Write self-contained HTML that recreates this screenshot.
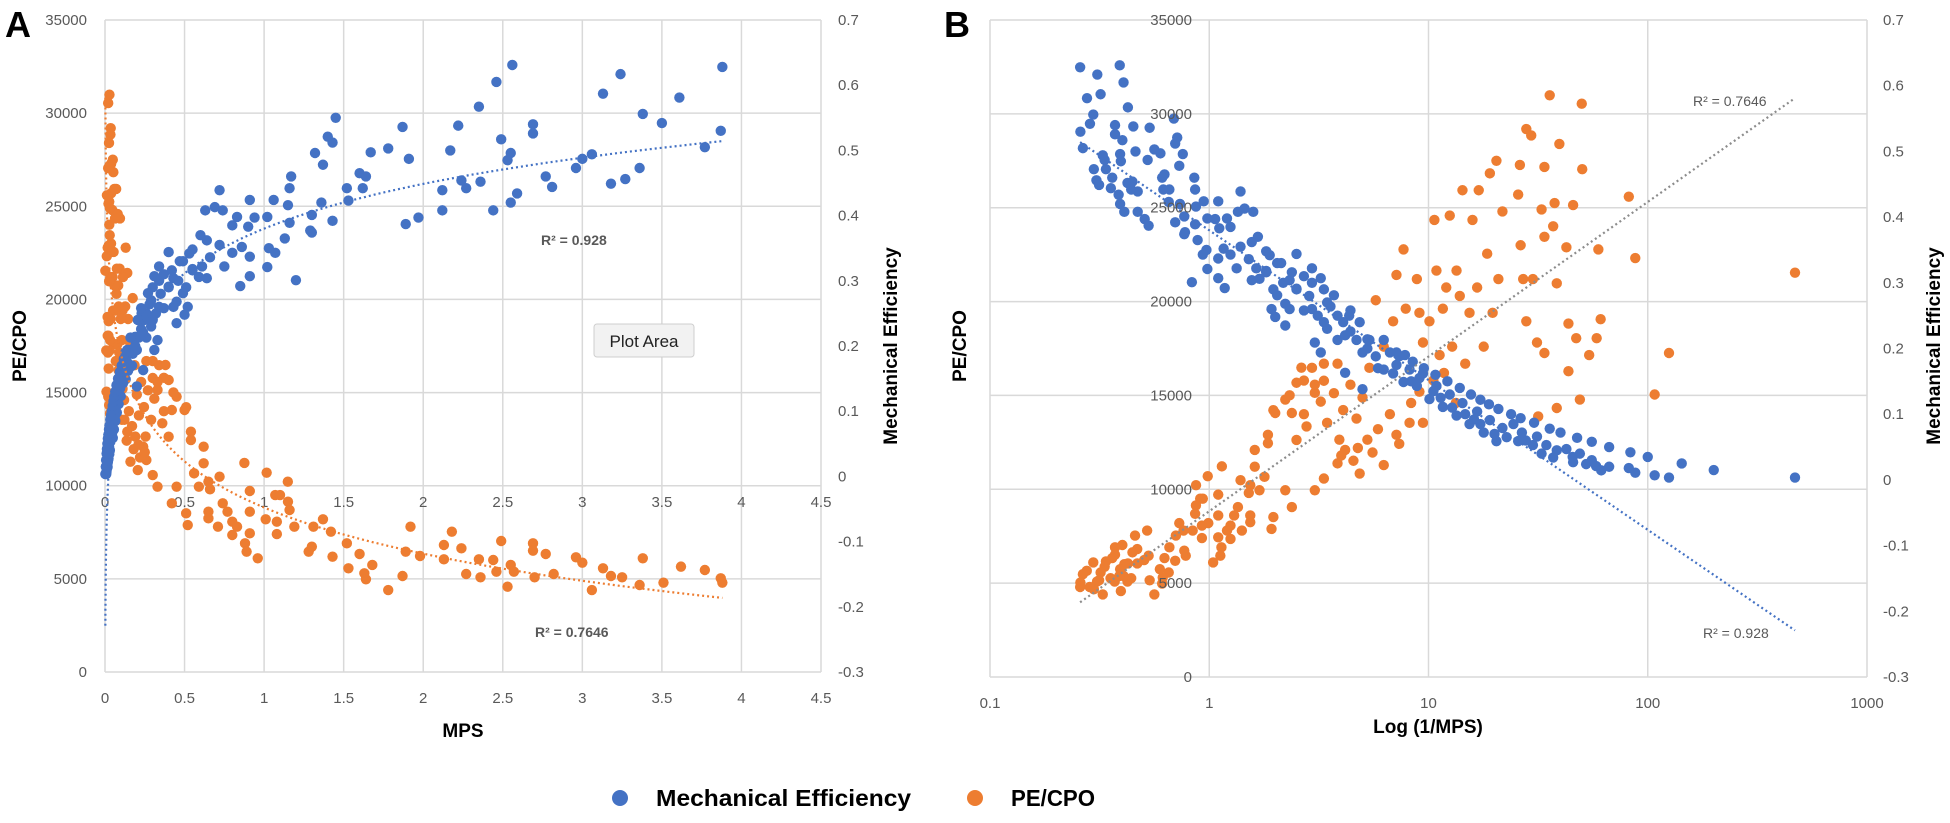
<!DOCTYPE html>
<html><head><meta charset="utf-8"><style>
html,body{margin:0;padding:0;background:#fff;}
svg{display:block;font-family:"Liberation Sans",sans-serif;}
.tk{font-size:15px;fill:#595959;}
.ttl{font-size:19px;font-weight:bold;fill:#000;}
</style></head><body>
<svg id="fig" width="1950" height="823" viewBox="0 0 1950 823">
<text x="5" y="37" font-size="36" font-weight="bold">A</text>
<text x="944" y="37" font-size="36" font-weight="bold">B</text>
<g id="gA"></g>
<g id="gB"></g>
<text class="ttl" transform="translate(26,346) rotate(-90)" text-anchor="middle">PE/CPO</text>
<text class="ttl" transform="translate(897,346) rotate(-90)" text-anchor="middle">Mechanical Efficiency</text>
<text class="ttl" x="463" y="737" text-anchor="middle">MPS</text>
<text class="ttl" transform="translate(966,346) rotate(-90)" text-anchor="middle">PE/CPO</text>
<text class="ttl" transform="translate(1940,346) rotate(-90)" text-anchor="middle">Mechanical Efficiency</text>
<text class="ttl" x="1428" y="733" text-anchor="middle">Log (1/MPS)</text>
<g>
<circle cx="620" cy="798" r="8" fill="#4472C4"></circle>
<text x="656" y="806" font-size="23" font-weight="bold" textLength="255" lengthAdjust="spacingAndGlyphs">Mechanical Efficiency</text>
<circle cx="975" cy="798" r="8" fill="#ED7D31"></circle>
<text x="1011" y="806" font-size="23" font-weight="bold" textLength="84" lengthAdjust="spacingAndGlyphs">PE/CPO</text>
</g>
<g>
<rect x="594" y="324" width="100" height="33" rx="3" fill="#f2f2f2" stroke="#cfcfcf"></rect>
<text x="644" y="347" font-size="17" text-anchor="middle" fill="#222">Plot Area</text>
</g>
</svg>
<script>
const mpsME=[2.56,2.46,3.88,3.24,3.13,3.61,2.35,3.38,3.50,1.45,1.87,2.22,2.69,2.69,2.49,3.87,1.40,1.43,1.67,1.78,2.17,1.32,1.37,1.91,2.55,2.53,3.77,3.06,3.00,2.96,3.36,3.27,3.18,2.77,2.81,2.36,2.24,2.27,2.12,2.59,2.55,2.44,2.12,1.97,1.89,1.60,1.64,1.62,1.52,1.53,1.17,1.16,1.36,1.43,1.30,1.29,1.30,1.15,1.16,1.13,1.06,0.91,0.72,0.63,0.69,0.74,1.02,0.94,0.90,0.83,0.80,1.03,1.07,0.91,1.02,1.20,0.91,0.85,0.80,0.75,0.72,0.86,0.60,0.64,0.66,0.61,0.40,0.55,0.53,0.34,0.47,0.55,0.59,0.64,0.31,0.27,0.43,0.40,0.49,0.52,0.50,0.45,0.34,0.45,0.33,0.29,0.23,0.19,0.14,0.31,0.24,0.20,
0.55,0.51,0.49,0.46,0.43,0.42,0.37,0.37,0.35,0.32,0.30,0.30,0.28,0.26,0.26,0.245,0.227,0.227,0.213,0.206,0.2,0.186,0.174,0.16,0.16,0.15,0.145,0.136,0.13,0.122,0.113,0.106,0.099,0.092,0.086,0.08,0.0745,0.07,0.065,0.06,0.056,0.0525,0.049,0.046,0.041,0.039,0.0375,0.0334,0.032,0.0305,0.029,0.027,0.0235,0.0219,0.0204,0.0191,0.0172,0.0163,0.0122,0.0114,0.0093,0.008,0.00213,
0.40,0.34,0.29,0.24,0.19,0.17,0.14,0.12,0.11,0.095,0.088,0.078,0.068,0.062,0.058,0.05,0.044,0.036,0.026,0.022,0.018,0.015,
0.005,0.007,0.01,0.012,0.015,0.018,0.021,0.025,0.028,0.033,0.038,0.042,0.048,0.053,0.058,0.064,0.072,0.082,0.093,0.105,0.118,0.128];
const meVals=[.631,.605,.628,.617,.587,.581,.567,.556,.542,.550,.536,.538,.540,.526,.517,.530,.521,.512,.497,.503,.500,.496,.478,.487,.496,.485,.505,.494,.487,.473,.473,.456,.449,.460,.444,.452,.454,.442,.439,.434,.420,.408,.408,.397,.387,.465,.460,.442,.442,.423,.460,.442,.420,.392,.401,.377,.374,.416,.389,.365,.424,.424,.439,.408,.413,.408,.398,.397,.383,.398,.385,.350,.343,.337,.321,.301,.307,.292,.343,.322,.355,.352,.370,.362,.336,.322,.344,.348,.342,.322,.330,.318,.306,.304,.307,.281,.304,.291,.281,.260,.248,.268,.260,.235,.209,.230,.250,.214,.194,.194,.163,.138,
.316,.29,.33,.30,.26,.316,.31,.258,.28,.25,.29,.24,.264,.25,.213,.24,.226,.258,.213,.24,.194,.213,.188,.213,.168,.194,.162,.188,.149,.168,.143,.162,.123,.143,.111,.13,.098,.117,.085,.104,.072,.091,.059,.079,.085,.059,.072,.053,.066,.04,.053,.034,.047,.027,.04,.024,.021,.0145,.018,.011,.007,.0036,.0036,
.29,.30,.27,.22,.20,.17,.175,.15,.155,.135,.125,.11,.10,.092,.085,.07,.065,.06,.045,.035,.03,.02,
.015,.025,.035,.042,.05,.058,.064,.072,.078,.087,.094,.1,.108,.115,.122,.13,.14,.15,.16,.17,.18,.19];
const mpsPE=[0.876,1.016,1.149,1.07,1.10,0.91,0.91,1.01,1.08,1.08,1.19,1.15,1.16,0.72,0.65,0.66,0.62,0.62,0.54,0.54,0.50,0.45,0.42,0.38,0.40,0.30,0.33,0.36,0.40,0.33,0.30,0.24,0.26,0.42,0.45,0.51,0.52,0.56,0.59,0.65,0.65,0.71,0.74,0.77,0.80,0.83,0.80,0.88,0.89,0.96,0.91,1.28,1.30,1.37,1.31,1.42,1.43,1.52,1.53,1.60,1.63,1.64,1.68,1.78,1.87,1.89,1.92,1.98,2.13,2.13,2.18,2.24,2.27,2.35,2.36,2.44,2.46,2.49,2.53,2.55,2.57,2.69,2.69,2.70,2.77,2.82,2.96,3.00,3.06,3.13,3.18,3.25,3.38,3.36,3.51,3.62,3.77,3.87,3.88,
0.51,0.43,0.37,0.37,0.34,0.33,0.31,0.30,0.29,0.27,0.26,0.255,0.245,0.227,0.22,0.213,0.206,0.2,0.19,0.186,0.18,0.174,0.16,0.16,0.15,0.145,0.14,0.136,0.13,0.127,0.122,0.113,0.11,0.106,0.106,0.099,0.094,0.092,0.089,0.086,0.083,0.08,0.078,0.0745,0.072,0.07,0.068,0.065,0.063,0.06,0.059,0.056,0.054,0.0525,0.051,0.049,0.048,0.046,0.0383,0.0358,0.034,0.039,0.038,0.037,0.0358,0.0334,0.032,0.0305,0.0296,0.0296,0.0296,0.027,0.0266,0.026,0.0253,0.0235,0.023,0.0219,0.0212,0.0204,0.020,0.0199,0.0185,0.0171,0.0168,0.0164,0.0122,0.0114,0.0093,0.008,0.00213,0.0316,0.026,0.023,0.028,
0.25,0.21,0.17,0.14,0.12,0.11,0.095,0.085,0.075];
const peVals=[11220,10700,10216,9500,9500,9716,8605,8197,8068,7402,7800,9142,8696,10484,10216,9806,12094,11203,12900,12453,14064,14780,14064,16480,15675,15782,15139,13350,12630,9948,10574,12094,11380,9053,9948,8518,7890,10663,9948,8605,8250,7800,9053,8605,8068,7800,7354,6907,6460,6103,7444,6460,6728,8197,7800,7533,6192,6907,5567,6335,5299,4977,5745,4400,5153,6460,7800,6227,6817,6049,7533,6639,5261,6049,5084,6012,5384,7032,4577,5745,5384,6907,6514,5084,6335,5261,6157,5870,4400,5567,5153,5084,6103,4670,4795,5656,5475,5030,4795,
14216,15005,15793,14000,16470,15570,14670,16690,13540,15120,16690,12640,14220,15570,11520,13770,10840,14890,12640,16470,11960,20070,11290,17600,14000,18950,21420,12420,22780,19620,13540,21200,19400,13540,17820,18950,24350,21650,17150,19620,20750,24580,17600,21650,20300,25930,16690,19400,24350,20750,25930,17600,22550,26830,19400,27500,21200,24800,27280,29190,28850,25700,23000,21200,18950,21200,17820,24910,27170,23450,17260,24010,25250,20970,28400,22890,18830,25140,18050,14780,30540,27050,17150,18050,22780,19060,25590,22320,15050,17260,21540,13880,14330,16290,30990,
11800,12200,13200,12900,14600,15200,15800,16200,14600];
const xTicksA=[0,0.5,1,1.5,2,2.5,3,3.5,4,4.5];
const xTicksB=[0.1,1,10,100,1000];
const yTicksPE=[0,5000,10000,15000,20000,25000,30000,35000];
const yTicksME=[-0.3,-0.2,-0.1,0,0.1,0.2,0.3,0.4,0.5,0.6,0.7];
const trendMEcoef=[0.38,0.099];
const trendPEcoef=[8830,-3578];
const r2Labels=["R\u00B2 = 0.928","R\u00B2 = 0.7646"];

const NS="http://www.w3.org/2000/svg";
const BLUE="#4472C4", ORANGE="#ED7D31", GRID="#d9d9d9";
function mk(parent,tag,attrs,text){const e=document.createElementNS(NS,tag);for(const k in attrs)e.setAttribute(k,attrs[k]);if(text!==undefined)e.textContent=text;parent.appendChild(e);return e;}
const A={l:105,r:821,t:20,b:672}, B={l:990,r:1867,t:20,b:677};
const xA=m=>A.l+m/4.5*(A.r-A.l);
const yAPE=p=>A.b-p/35000*(A.b-A.t);
const yAME=e=>A.b-(e+0.3)*(A.b-A.t);
const xB=u=>B.l+(Math.log10(u)+1)/4*(B.r-B.l);
const yBPE=p=>B.b-p/35000*(B.b-B.t);
const yBME=e=>B.b-(e+0.3)*(B.b-B.t);
const gA=document.getElementById("gA"), gB=document.getElementById("gB");
const fmt=v=>String(Math.round(v*10)/10);

xTicksA.forEach(v=>{
  const ln=mk(gA,"line",{x1:xA(v),x2:xA(v),y1:A.t,y2:A.b,stroke:GRID,"stroke-width":1.5});
  
  
  const t=mk(gA,"text",{x:xA(v),y:703,class:"tk","text-anchor":"middle"},String(v));
  
  
  const t2=mk(gA,"text",{x:xA(v),y:507,class:"tk","text-anchor":"middle"},String(v));
  
  
});
yTicksPE.forEach(v=>{
  const ln=mk(gA,"line",{x1:A.l,x2:A.r,y1:yAPE(v),y2:yAPE(v),stroke:GRID,"stroke-width":1.5});
  
  
  const t=mk(gA,"text",{x:87,y:yAPE(v)+5,class:"tk","text-anchor":"end"},String(v));
  
  
});
yTicksME.forEach(v=>{
  const t=mk(gA,"text",{x:838,y:yAME(v)+5,class:"tk"},fmt(v));
  
  
});
mpsPE.forEach((m,i)=>{
  const c=mk(gA,"circle",{cx:xA(m),cy:yAPE(peVals[i]),r:5.2,fill:ORANGE});
  
  
});
mpsME.forEach((m,i)=>{
  const c=mk(gA,"circle",{cx:xA(m),cy:yAME(meVals[i]),r:5.2,fill:BLUE});
  
  
});
const mMin=Math.min(...mpsME), mMax=Math.max(...mpsME);
function trendPts(fx,fy,coef){const pts=[];for(let k=0;k<=200;k++){const m=Math.exp(Math.log(mMin)+(Math.log(mMax)-Math.log(mMin))*k/200);pts.push(fx(m).toFixed(1)+","+fy(coef[0]+coef[1]*Math.log(m)).toFixed(1));}return pts.join(" ");}
let tl=mk(gA,"polyline",{points:trendPts(xA,yAPE,trendPEcoef),fill:"none",stroke:ORANGE,"stroke-width":2.2,"stroke-dasharray":"2 3"});


tl=mk(gA,"polyline",{points:trendPts(xA,yAME,trendMEcoef),fill:"none",stroke:BLUE,"stroke-width":2.2,"stroke-dasharray":"2 3"});


let r=mk(gA,"text",{x:541,y:245,"font-size":14,"font-weight":"bold",fill:"#595959"},r2Labels[0]);


r=mk(gA,"text",{x:535,y:637,"font-size":14,"font-weight":"bold",fill:"#595959"},r2Labels[1]);



xTicksB.forEach(v=>{
  const ln=mk(gB,"line",{x1:xB(v),x2:xB(v),y1:B.t,y2:B.b,stroke:GRID,"stroke-width":1.5});
  
  
  const t=mk(gB,"text",{x:xB(v),y:708,class:"tk","text-anchor":"middle"},String(v));
  
  
});
yTicksPE.forEach(v=>{
  const ln=mk(gB,"line",{x1:B.l,x2:B.r,y1:yBPE(v),y2:yBPE(v),stroke:GRID,"stroke-width":1.5});
  
  
});
yTicksME.forEach(v=>{
  const t=mk(gB,"text",{x:1883,y:yBME(v)+5,class:"tk"},fmt(v));
  
  
});
mpsPE.forEach((m,i)=>{
  const c=mk(gB,"circle",{cx:xB(1/m),cy:yBPE(peVals[i]),r:5.2,fill:ORANGE});
  
  
});
mpsME.forEach((m,i)=>{
  const c=mk(gB,"circle",{cx:xB(1/m),cy:yBME(meVals[i]),r:5.2,fill:BLUE});
  
  
});
function trendB(fy,coef){const pts=[];[mMax,mMin].forEach(m=>pts.push(xB(1/m).toFixed(1)+","+fy(coef[0]+coef[1]*Math.log(m)).toFixed(1)));return pts.join(" ");}
tl=mk(gB,"polyline",{points:trendB(yBPE,trendPEcoef),fill:"none",stroke:"#8c8c8c","stroke-width":2.2,"stroke-dasharray":"2 3"});


tl=mk(gB,"polyline",{points:trendB(yBME,trendMEcoef),fill:"none",stroke:BLUE,"stroke-width":2.2,"stroke-dasharray":"2 3"});


yTicksPE.forEach(v=>{
  const t=mk(gB,"text",{x:1192,y:yBPE(v)+5,class:"tk","text-anchor":"end"},String(v));
  
  
});
r=mk(gB,"text",{x:1693,y:106,"font-size":14,fill:"#595959"},r2Labels[1]);


r=mk(gB,"text",{x:1703,y:638,"font-size":14,fill:"#595959"},r2Labels[0]);


</script>
</body></html>
